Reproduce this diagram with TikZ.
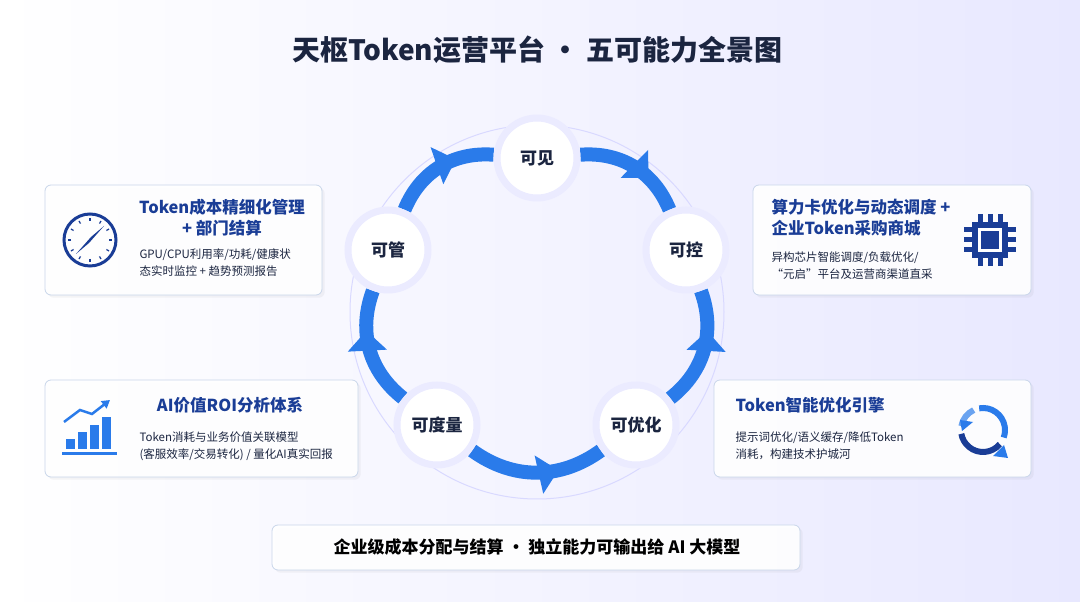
\documentclass[tikz,border=0pt]{standalone}
\usepackage{fontspec}
\setmainfont{Noto Sans CJK SC}
\usetikzlibrary{positioning,arrows.meta,shadows,calc,decorations.markings}
\definecolor{navy}{HTML}{1B2540}
\definecolor{deep}{HTML}{1A3D96}
\definecolor{flow}{HTML}{2A7BEA}
\definecolor{edge}{HTML}{C9D6EA}
\pgfdeclarelayer{back}
\pgfsetlayers{back,main}
\begin{document}
\begin{tikzpicture}[x=1pt, y=1pt,
    stage/.style={circle, fill=white, draw=blue!8, line width=7pt, minimum size=80pt,
      font=\fontsize{17}{17}\selectfont\bfseries, text=navy},
    card/.style={draw=edge, fill=white, fill opacity=0.92, rounded corners=6pt, line width=0.8pt},
    head/.style={font=\fontsize{16.5}{21}\selectfont\bfseries, text=deep, align=left},
    body/.style={font=\fontsize{11.5}{17}\selectfont, text=navy, align=left, anchor=west},
    arr/.style={line width=14pt, flow, postaction={decorate}, decoration={markings,
      mark=at position 0.66 with {\arrow[flow]{Triangle[length=20pt,width=38pt]}}}}]
  \useasboundingbox (0,0) rectangle (1080,602);
  \begin{pgfonlayer}{back}
    \shade[left color=white, right color=blue!9] (0,0) rectangle (1080,602);
    \draw[blue!15, line width=1pt] (537,290) circle (187);
  \end{pgfonlayer}
  \node[font=\fontsize{28}{28}\selectfont\bfseries, text=navy] (title) at (537,552) {天枢Token运营平台 · 五可能力全景图};

  % ring
  \node[stage] (V) at (537,444) {可见};
  \node[stage] (K) at (686,352) {可控};
  \node[stage] (Y) at (636,177) {可优化};
  \node[stage] (D) at (437,177) {可度量};
  \node[stage] (G) at (388,352) {可管};
  \begin{pgfonlayer}{back}
    \path (G) edge[arr, bend left=36] (V);
    \path (V) edge[arr, bend left=36] (K);
    \path (Y) edge[arr, bend right=36] (K);
    \path (D) edge[arr, bend right=36] (Y);
    \path (D) edge[arr, bend left=36] (G);
  \end{pgfonlayer}

  % cards
  \draw[card, drop shadow={opacity=0.08}] (45,307) rectangle (322,417);
  \draw[card, drop shadow={opacity=0.08}] (45,125) rectangle (358,222);
  \draw[card, drop shadow={opacity=0.08}] (753,307) rectangle (1031,417);
  \draw[card, drop shadow={opacity=0.08}] (714,125) rectangle (1031,222);
  \draw[card, drop shadow={opacity=0.08}] (272,32) rectangle (800,77);

  \node[head, align=center] (h1) at (222,384) {Token成本精细化管理\\+ 部门结算};
  \node[body] (b1) at (136,339) {GPU/CPU利用率/功耗/健康状\\态实时监控 + 趋势预测报告};
  \node[head] (h2) at (230,197) {AI价值ROI分析体系};
  \node[body] (b2) at (136,156) {Token消耗与业务价值关联模型\\(客服效率/交易转化) / 量化AI真实回报};
  \node[head, anchor=west] (h3) at (768,384) {算力卡优化与动态调度 +\\企业Token采购商城};
  \node[body] (b3) at (768,336) {异构芯片智能调度/负载优化/\\“元启”平台及运营商渠道直采};
  \node[head, anchor=west] (h4) at (732,197) {Token智能优化引擎};
  \node[body] (b4) at (732,156) {提示词优化/语义缓存/降低Token\\消耗，构建技术护城河};
  \node[font=\fontsize{17}{17}\selectfont\bfseries, text=black] (foot) at (537,55) {企业级成本分配与结算 · 独立能力可输出给 AI 大模型};

  % icons
  \draw[deep, line width=3pt] (90,362) circle (26);
  \foreach \a in {0,30,...,330}
    \draw[deep, line width=1.2pt] ($(90,362)+(\a:19)$) -- ($(90,362)+(\a:22)$);
  \fill[deep] (76,348) -- (91,365) -- (104,376) -- (89,359) -- cycle;
  \fill[flow] (62,147) rectangle (117,150);
  \foreach \x/\h in {66/10,78/17,90/24,102/32}
    \fill[flow] (\x,153) rectangle (\x+9,153+\h);
  \draw[flow, line width=2.5pt, -{Triangle[length=8pt,width=9pt]}] (64,180) -- (80,192) -- (92,188) -- (110,202);
  \fill[deep] (972,344) rectangle (1008,380);
  \fill[white] (978,350) rectangle (1002,374);
  \fill[deep] (981,353) rectangle (999,371);
  \foreach \d in {-10,0,10} {
    \fill[deep] (990+\d-2.5,380) rectangle (990+\d+2.5,388);
    \fill[deep] (990+\d-2.5,336) rectangle (990+\d+2.5,344);
    \fill[deep] (964,362+\d-2.5) rectangle (972,362+\d+2.5);
    \fill[deep] (1008,362+\d-2.5) rectangle (1016,362+\d+2.5);}
  \draw[flow, line width=6pt] (983,172) ++(100:22) arc (100:-20:22);
  \draw[deep, line width=6pt] (983,172) ++(-40:22) arc (-40:-170:22);
  \draw[flow!70, line width=6pt] (983,172) ++(170:22) arc (170:115:22);
  \fill[flow] (993,146) -- (1004,157) -- (1008,144) -- cycle;
  \fill[flow] (960,182) -- (973,180) -- (962,171) -- cycle;
\end{tikzpicture}
\end{document}
